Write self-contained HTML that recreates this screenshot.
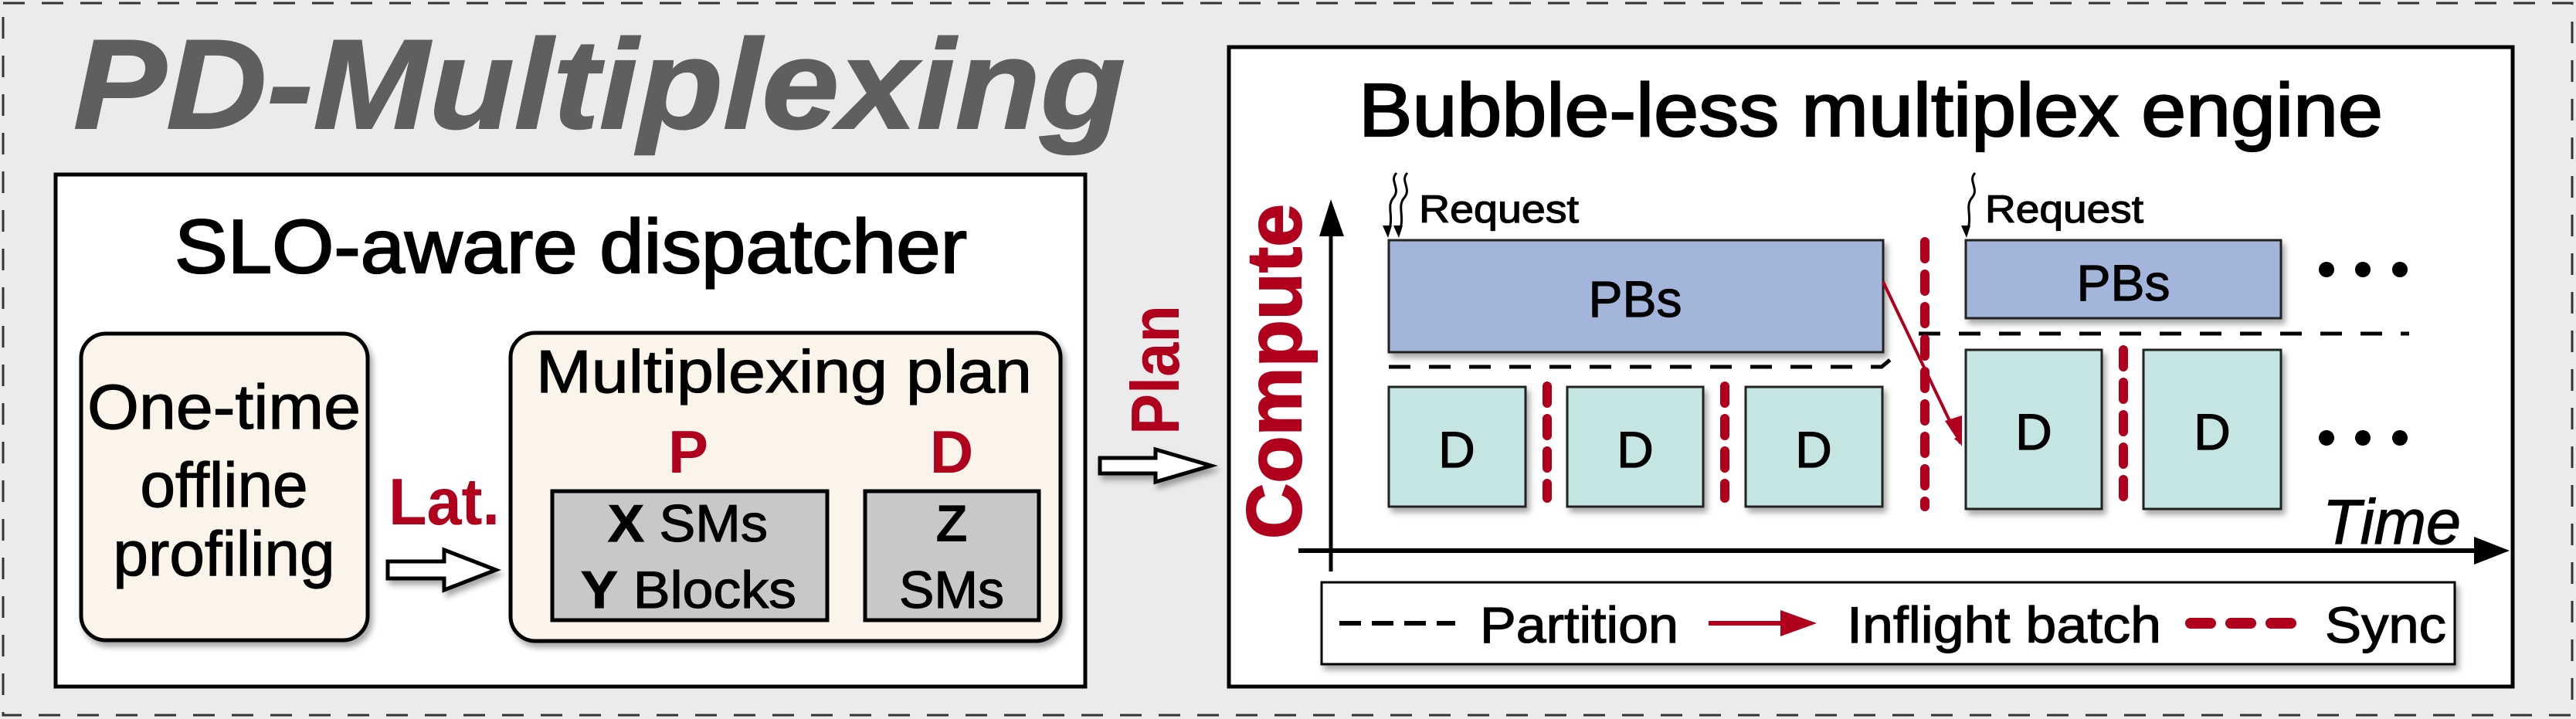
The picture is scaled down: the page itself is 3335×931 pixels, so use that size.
<!DOCTYPE html>
<html><head><meta charset="utf-8"><style>html,body{margin:0;padding:0;background:#ebebeb}svg{display:block}text{font-family:"Liberation Sans",Arial,sans-serif}.m{stroke:#000;stroke-width:1.2}.h{stroke:#000;stroke-width:2.2}</style></head><body>
<svg width="3335" height="931" viewBox="0 0 3335 931" xmlns="http://www.w3.org/2000/svg">
<defs>
<filter id="sh" x="-10%" y="-10%" width="130%" height="140%"><feDropShadow dx="4" dy="6" stdDeviation="4" flood-color="#000" flood-opacity="0.35"/></filter>
<marker id="ah" markerWidth="10" markerHeight="10" refX="9" refY="5" orient="auto" markerUnits="userSpaceOnUse" viewBox="0 0 10 10"><path d="M0,0 L10,5 L0,10 z" fill="#b0001e"/></marker>
</defs>
<rect x="0" y="0" width="3335" height="931" fill="#ebebeb"/>
<rect x="4" y="4" width="3326" height="922" fill="none" stroke="#333" stroke-width="3" stroke-dasharray="28,22"/>
<text x="95" y="166" font-size="165" font-weight="bold" font-style="italic" fill="#5f5f5f" stroke="#5f5f5f" stroke-width="2" textLength="1362" lengthAdjust="spacingAndGlyphs">PD-Multiplexing</text>

<!-- Left box -->
<rect x="72" y="226" width="1333" height="663" fill="#fff" stroke="#000" stroke-width="5"/>
<text class="h" x="226" y="353" font-size="98" textLength="1026" lengthAdjust="spacingAndGlyphs">SLO-aware dispatcher</text>
<rect x="105" y="432" width="371" height="397" rx="32" fill="#faf4ea" stroke="#000" stroke-width="5" filter="url(#sh)"/>
<text class="m" x="290" y="555" font-size="82" text-anchor="middle" textLength="354" lengthAdjust="spacingAndGlyphs">One-time</text>
<text class="m" x="290" y="656" font-size="82" text-anchor="middle">offline</text>
<text class="m" x="290" y="745" font-size="82" text-anchor="middle">profiling</text>
<text x="503" y="679" font-size="85" font-weight="bold" fill="#b0001e" textLength="144" lengthAdjust="spacingAndGlyphs">Lat.</text>
<path d="M502,727 L575,727 L575,712 L642,738 L575,764 L575,749 L502,749 Z" fill="#fff" stroke="#000" stroke-width="5" stroke-linejoin="miter" filter="url(#sh)"/>
<rect x="661" y="431" width="712" height="399" rx="32" fill="#faf4ea" stroke="#000" stroke-width="5" filter="url(#sh)"/>
<text class="m" x="694" y="508" font-size="78" textLength="642" lengthAdjust="spacingAndGlyphs">Multiplexing plan</text>
<text x="891" y="612" font-size="78" font-weight="bold" fill="#b0001e" text-anchor="middle">P</text>
<text x="1232" y="612" font-size="78" font-weight="bold" fill="#b0001e" text-anchor="middle">D</text>
<rect x="715" y="636" width="356" height="167" fill="#c8c8c8" stroke="#000" stroke-width="5"/>
<text class="m" x="787" y="701" font-size="68" textLength="207" lengthAdjust="spacingAndGlyphs"><tspan font-weight="bold">X</tspan> SMs</text>
<text class="m" x="752" y="787" font-size="68" textLength="279" lengthAdjust="spacingAndGlyphs"><tspan font-weight="bold">Y</tspan> Blocks</text>
<rect x="1120" y="636" width="225" height="167" fill="#c8c8c8" stroke="#000" stroke-width="5"/>
<text x="1232" y="701" font-size="68" font-weight="bold" text-anchor="middle">Z</text>
<text class="m" x="1232" y="787" font-size="68" text-anchor="middle">SMs</text>

<!-- Plan -->
<text transform="translate(1526,563) rotate(-90)" font-size="88" font-weight="bold" fill="#b0001e" textLength="168" lengthAdjust="spacingAndGlyphs">Plan</text>
<path d="M1424,593 L1496,593 L1496,582 L1568,603 L1496,624 L1496,613 L1424,613 Z" fill="#fff" stroke="#000" stroke-width="5" filter="url(#sh)"/>

<!-- Right box -->
<rect x="1591" y="61" width="1662" height="828" fill="#fff" stroke="#000" stroke-width="5"/>
<text class="h" x="1759" y="176" font-size="97" textLength="1326" lengthAdjust="spacingAndGlyphs">Bubble-less multiplex engine</text>
<text transform="translate(1684,698) rotate(-90)" font-size="100" font-weight="bold" fill="#b0001e" stroke="#b0001e" stroke-width="2" textLength="434" lengthAdjust="spacingAndGlyphs">Compute</text>
<line x1="1723" y1="300" x2="1723" y2="740" stroke="#000" stroke-width="5"/>
<path d="M1708,306 L1723,258 L1740,306 Z" fill="#000"/>
<line x1="1681" y1="713" x2="3210" y2="713" stroke="#000" stroke-width="6"/>
<path d="M3203,695 L3249,713 L3203,731 Z" fill="#000"/>
<text class="m" x="3007" y="704" font-size="82" font-style="italic" textLength="179" lengthAdjust="spacingAndGlyphs">Time</text>

<!-- Requests -->
<g fill="none" stroke="#000" stroke-width="3">
<path d="M1808,224 C1798,234 1814,244 1804,256 C1794,268 1806,280 1797,302"/>
<path d="M1822,224 C1812,234 1828,244 1818,256 C1808,268 1820,280 1811,302"/>
<path d="M2557,224 C2547,234 2563,244 2553,256 C2543,268 2555,280 2546,302"/>
</g>
<path d="M1790,292 L1797,308 L1802,292 Z M1804,292 L1811,308 L1816,292 Z M2539,292 L2546,308 L2551,292 Z" fill="#000"/>
<text class="m" x="1837" y="288" font-size="50" textLength="207" lengthAdjust="spacingAndGlyphs">Request</text>
<text class="m" x="2570" y="288" font-size="50" textLength="205" lengthAdjust="spacingAndGlyphs">Request</text>

<!-- PBs -->
<rect x="1798" y="311" width="640" height="145" fill="#a4b5dc" stroke="#222" stroke-width="3" filter="url(#sh)"/>
<text class="m" x="2117" y="410" font-size="66" text-anchor="middle">PBs</text>
<rect x="2545" y="311" width="408" height="101" fill="#a4b5dc" stroke="#222" stroke-width="3" filter="url(#sh)"/>
<text class="m" x="2749" y="389" font-size="66" text-anchor="middle">PBs</text>
<g fill="#000"><circle cx="3012" cy="349" r="10"/><circle cx="3059" cy="349" r="10"/><circle cx="3107" cy="349" r="10"/>
<circle cx="3012" cy="567" r="10"/><circle cx="3059" cy="567" r="10"/><circle cx="3107" cy="567" r="10"/></g>

<!-- partitions -->
<path d="M1798,475 L2436,475 L2464,452" fill="none" stroke="#000" stroke-width="5" stroke-dasharray="28,24"/>
<line x1="2484" y1="432" x2="3119" y2="432" stroke="#000" stroke-width="5" stroke-dasharray="28,24"/>

<!-- D boxes -->
<g fill="#c5e5e2" stroke="#222" stroke-width="3" filter="url(#sh)">
<rect x="1798" y="501" width="177" height="155"/><rect x="2029" y="501" width="176" height="155"/><rect x="2260" y="501" width="177" height="155"/>
<rect x="2545" y="453" width="176" height="206"/><rect x="2775" y="453" width="178" height="206"/>
</g>
<g font-size="66" text-anchor="middle" class="m"><text x="1886" y="605">D</text><text x="2117" y="605">D</text><text x="2348" y="605">D</text><text x="2633" y="582">D</text><text x="2864" y="582">D</text></g>

<!-- sync -->
<g stroke="#b0001e" stroke-width="12" stroke-linecap="round" stroke-dasharray="22,20">
<line x1="2003" y1="500" x2="2003" y2="645"/><line x1="2233" y1="500" x2="2233" y2="645"/>
<line x1="2492" y1="313" x2="2492" y2="656"/><line x1="2749" y1="453" x2="2749" y2="654"/>
</g>
<line x1="2438" y1="365" x2="2538" y2="574" stroke="#b0001e" stroke-width="4" marker-end="url(#ah)"/>
<path d="M2518,545 L2540,578 L2540,538 Z" fill="#b0001e"/>

<!-- legend -->
<rect x="1711" y="754" width="1467" height="106" fill="#fff" stroke="#000" stroke-width="3" filter="url(#sh)"/>
<line x1="1734" y1="807" x2="1884" y2="807" stroke="#000" stroke-width="6" stroke-dasharray="28,14"/>
<text class="m" x="1916" y="832" font-size="66" textLength="257" lengthAdjust="spacingAndGlyphs">Partition</text>
<line x1="2212" y1="807" x2="2320" y2="807" stroke="#b0001e" stroke-width="6"/>
<path d="M2305,790 L2352,807 L2305,824 Z" fill="#b0001e"/>
<text class="m" x="2391" y="832" font-size="66" textLength="407" lengthAdjust="spacingAndGlyphs">Inflight batch</text>
<line x1="2836" y1="807" x2="2975" y2="807" stroke="#b0001e" stroke-width="14" stroke-linecap="round" stroke-dasharray="26,26"/>
<text class="m" x="3010" y="832" font-size="66" textLength="157" lengthAdjust="spacingAndGlyphs">Sync</text>
</svg>
</body></html>
